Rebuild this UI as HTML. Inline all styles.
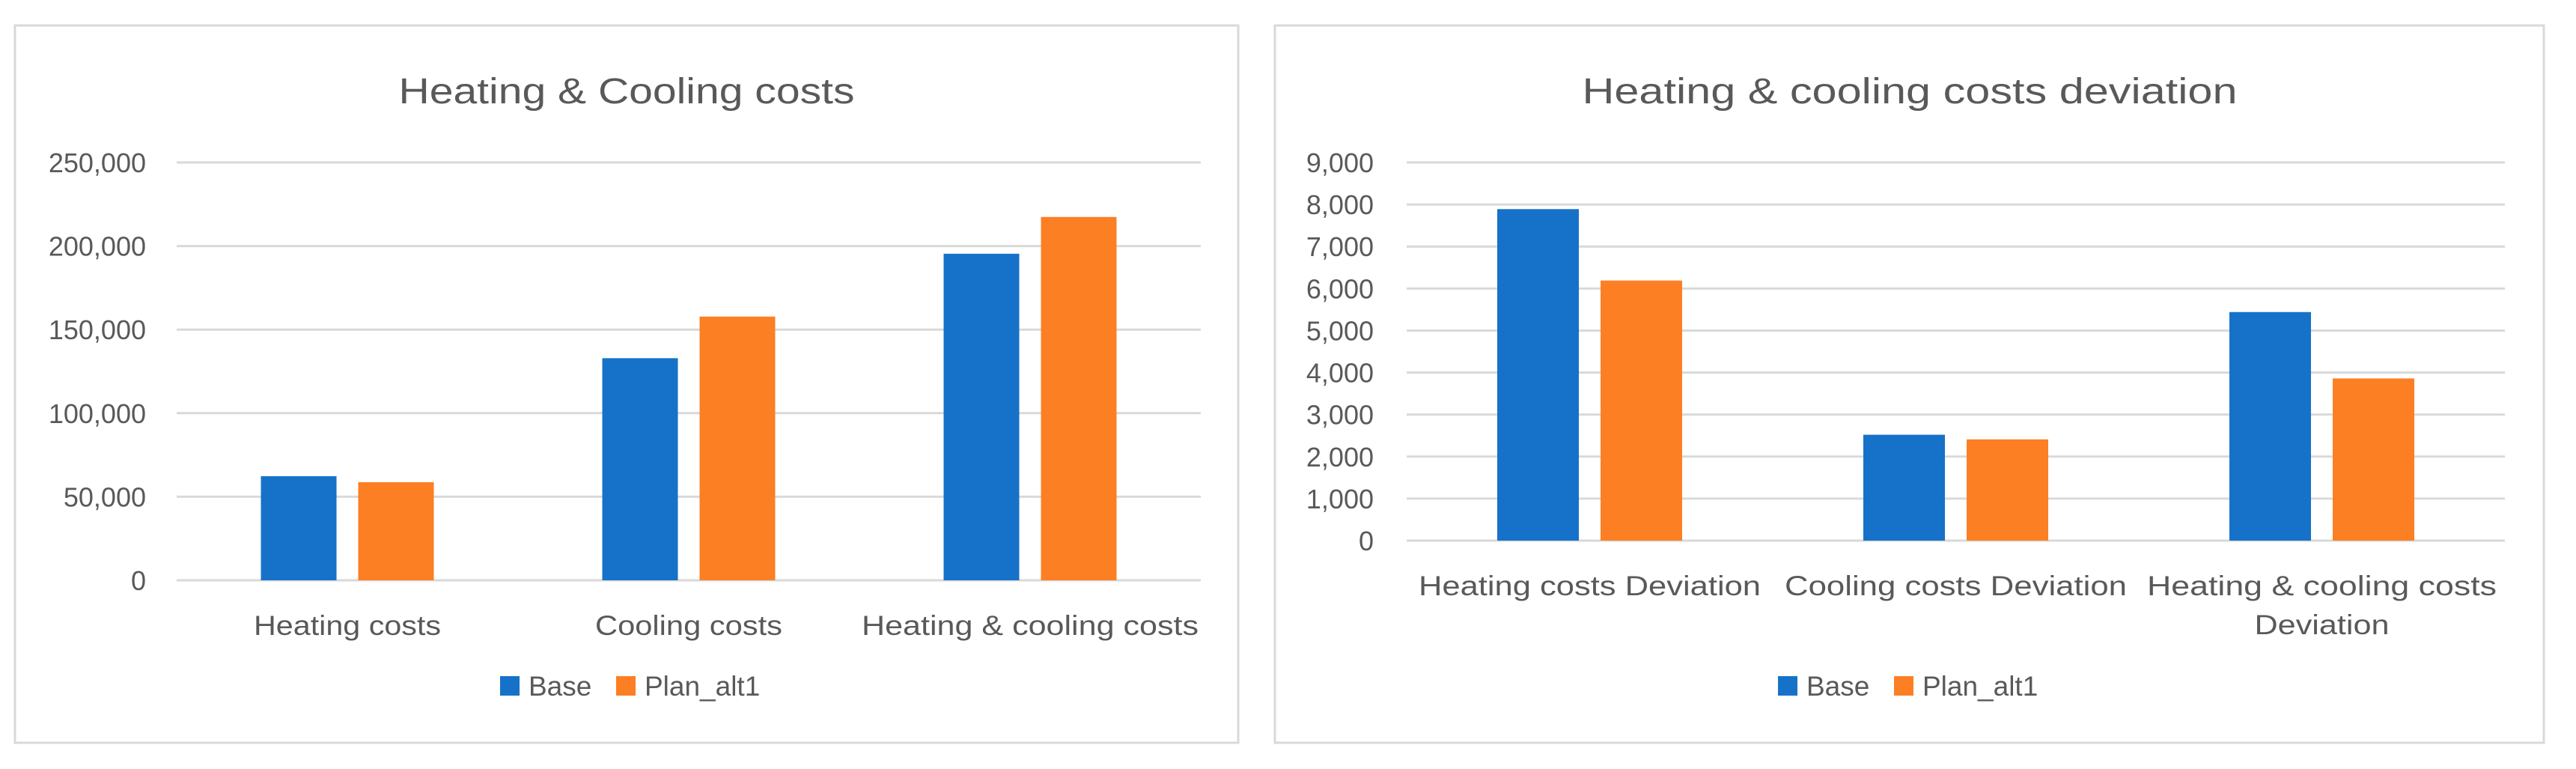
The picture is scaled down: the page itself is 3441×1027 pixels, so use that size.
<!DOCTYPE html>
<html><head><meta charset="utf-8">
<style>
html,body{margin:0;padding:0;background:#fff;}
svg{display:block;font-family:"Liberation Sans","Noto Sans CJK KR",sans-serif;}
</style></head>
<body>
<svg id="s" width="3441" height="1027" viewBox="0 0 3441 1027" xmlns="http://www.w3.org/2000/svg"></svg>
<script>
// ---- left chart data ----
const leftCategories = ["Heating costs", "Cooling costs", "Heating & cooling costs"];
const leftBase = [62300, 132900, 195400];
const leftPlan = [58700, 157800, 217400];
const leftTicks = [0, 50000, 100000, 150000, 200000, 250000];
const leftTickLabels = ["0", "50,000", "100,000", "150,000", "200,000", "250,000"];
// ---- right chart data ----
const rightCategories = [["Heating costs  Deviation"], ["Cooling costs  Deviation"], ["Heating & cooling costs", "Deviation"]];
const rightBase = [7890, 2520, 5440];
const rightPlan = [6190, 2410, 3860];
const rightTicks = [0, 1000, 2000, 3000, 4000, 5000, 6000, 7000, 8000, 9000];
const rightTickLabels = ["0", "1,000", "2,000", "3,000", "4,000", "5,000", "6,000", "7,000", "8,000", "9,000"];
const seriesNames = ["Base", "Plan_alt1"];

const NS = "http://www.w3.org/2000/svg";
const svg = document.getElementById("s");
const BLUE = "#1672c8", ORANGE = "#fc7f24", TXT = "#595959", GRID = "#d9d9d9";

function el(tag, attrs, parent) {
  const e = document.createElementNS(NS, tag);
  for (const k in attrs) e.setAttribute(k, attrs[k]);
  (parent || svg).appendChild(e);
  return e;
}

function drawChart(cfg) {
  const g = el("g", {});
  
  
  const frame = el("rect", {x: cfg.fx, y: 34, width: cfg.fw, height: 958, fill: "#fff", stroke: "#d9d9d9", "stroke-width": 3}, g);
  
  
  const title = el("text", {x: cfg.tcx, y: 138, "text-anchor": "middle", "font-size": 48, fill: TXT, textLength: cfg.tlen, lengthAdjust: "spacingAndGlyphs"}, g);
  title.textContent = cfg.title;
  
  
  const maxV = cfg.ticks[cfg.ticks.length - 1];
  const yScale = v => cfg.y0 - (v / maxV) * (cfg.y0 - cfg.yTop);
  const cw = (cfg.x1 - cfg.x0) / cfg.cats.length;
  const xCenter = i => cfg.x0 + cw * (i + 0.5);
  cfg.ticks.forEach((t, i) => {
    const y = yScale(t);
    const gl = el("line", {x1: cfg.x0, x2: cfg.x1, y1: y, y2: y, stroke: GRID, "stroke-width": 3}, g);
    
    
    const tl = el("text", {x: cfg.labRight, y: y + 13, "text-anchor": "end", "font-size": 36, fill: TXT}, g);
    tl.textContent = cfg.tickLabels[i];
    
    
  });
  const series = [cfg.base, cfg.plan], colors = [BLUE, ORANGE];
  series.forEach((vals, si) => {
    vals.forEach((v, i) => {
      const cx = xCenter(i) + (si === 0 ? -cfg.off : cfg.off);
      const y = yScale(v);
      const b = el("rect", {x: cx - cfg.bw / 2, y: y, width: cfg.bw, height: cfg.y0 - y, fill: colors[si]}, g);
      
      
    });
  });
  cfg.cats.forEach((c, i) => {
    const lines = Array.isArray(c) ? c : [c];
    lines.forEach((ln, li) => {
      const t = el("text", {x: xCenter(i), y: cfg.catY + li * 52, "text-anchor": "middle", "font-size": 37, fill: TXT}, g);
      if (cfg.catLens && cfg.catLens[i] && cfg.catLens[i][li]) {
        t.setAttribute("textLength", cfg.catLens[i][li]);
        t.setAttribute("lengthAdjust", "spacingAndGlyphs");
      }
      t.textContent = ln;
      
      
    });
  });
  // legend
  const lx = cfg.legX;
  const items = [[lx, BLUE, seriesNames[0]], [lx + 155, ORANGE, seriesNames[1]]];
  items.forEach(([x, col, name], k) => {
    const sw = el("rect", {x: x, y: 903, width: 26, height: 26, fill: col}, g);
    
    
    const tx = el("text", {x: x + 38, y: 929, "font-size": 37, fill: TXT}, g);
    tx.textContent = name;
    
    
  });
}

drawChart({name: "heating-cooling-costs-chart", fx: 20, fw: 1634, title: "Heating & Cooling costs", tcx: 837, tlen: 609,
  x0: 236, x1: 1604, y0: 775, yTop: 217, labRight: 195, ticks: leftTicks, tickLabels: leftTickLabels,
  base: leftBase, plan: leftPlan, bw: 101, off: 65, cats: leftCategories, catY: 848,
  catLens: [[250], [250], [450]], legX: 668});

drawChart({name: "costs-deviation-chart", fx: 1703, fw: 1695, title: "Heating & cooling costs deviation", tcx: 2551, tlen: 875,
  x0: 1879, x1: 3346, y0: 722, yTop: 217, labRight: 1835, ticks: rightTicks, tickLabels: rightTickLabels,
  base: rightBase, plan: rightPlan, bw: 109, off: 69, cats: rightCategories, catY: 795,
  catLens: [[457], [457], [467, 180]], legX: 2375});
</script>
</body></html>
